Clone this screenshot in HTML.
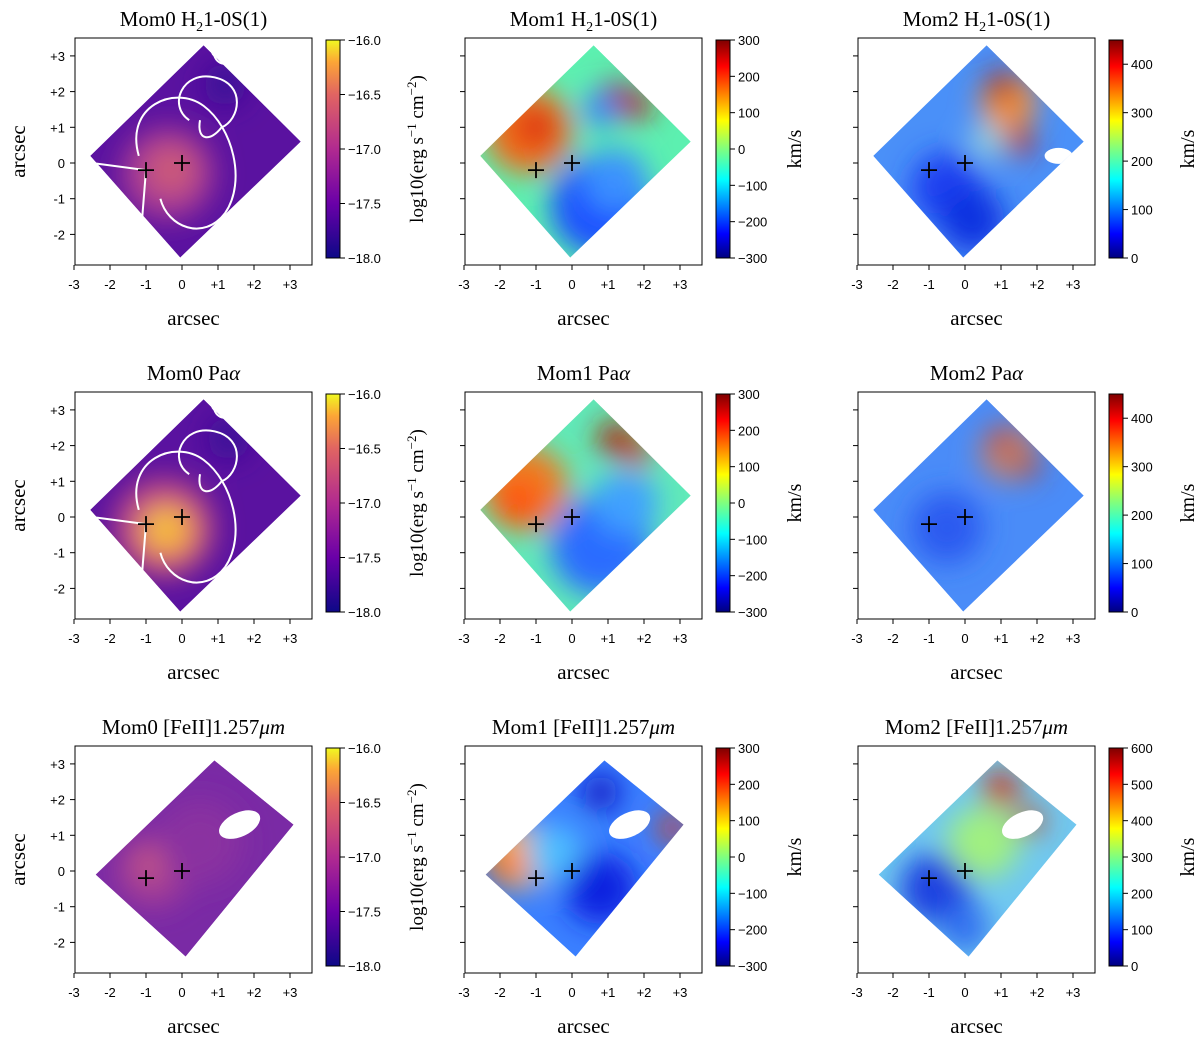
<!DOCTYPE html>
<html><head><meta charset="utf-8">
<style>
html,body{margin:0;padding:0;background:#fff;}
svg text{font-family:"Liberation Sans",sans-serif;}
.serif{font-family:"Liberation Serif",serif;}
</style></head>
<body>
<svg id="fig" width="1200" height="1050" viewBox="0 0 1200 1050" xmlns="http://www.w3.org/2000/svg">
<defs>
<linearGradient id="plasma" x1="0" y1="1" x2="0" y2="0">
<stop offset="0" stop-color="#0d0887"/><stop offset="0.25" stop-color="#6a00a8"/>
<stop offset="0.5" stop-color="#b12a90"/><stop offset="0.75" stop-color="#e16462"/>
<stop offset="0.9" stop-color="#fca636"/><stop offset="1" stop-color="#f0f921"/>
</linearGradient>
<linearGradient id="jet" x1="0" y1="1" x2="0" y2="0">
<stop offset="0" stop-color="#00007f"/><stop offset="0.11" stop-color="#0000ff"/>
<stop offset="0.36" stop-color="#00ffff"/><stop offset="0.5" stop-color="#7fff7f"/>
<stop offset="0.63" stop-color="#ffff00"/><stop offset="0.88" stop-color="#ff0000"/>
<stop offset="1" stop-color="#7f0000"/>
</linearGradient>
<filter id="blur" x="-50%" y="-50%" width="200%" height="200%"><feGaussianBlur stdDeviation="14"/></filter>
<filter id="blur2" x="-50%" y="-50%" width="200%" height="200%"><feGaussianBlur stdDeviation="4"/></filter>
</defs>
</svg>
<script>
const xTicks=[-3,-2,-1,0,1,2,3];
const yTicks=[3,2,1,0,-1,-2];
const mom0Ticks=[-16.0,-16.5,-17.0,-17.5,-18.0];
const mom0Range=[-18,-16];
const mom1Ticks=[300,200,100,0,-100,-200,-300];
const mom1Range=[-300,300];
const mom2TicksA=[400,300,200,100,0];
const mom2RangeA=[0,450];
const mom2TicksB=[600,500,400,300,200,100,0];
const mom2RangeB=[0,600];
const titles=[["Mom0 H<tspan font-size='14' dy='5'>2</tspan><tspan dy='-5'>1-0S(1)</tspan>","Mom1 H<tspan font-size='14' dy='5'>2</tspan><tspan dy='-5'>1-0S(1)</tspan>","Mom2 H<tspan font-size='14' dy='5'>2</tspan><tspan dy='-5'>1-0S(1)</tspan>"],
["Mom0 Pa<tspan font-style='italic'>α</tspan>","Mom1 Pa<tspan font-style='italic'>α</tspan>","Mom2 Pa<tspan font-style='italic'>α</tspan>"],
["Mom0 [FeII]1.257<tspan font-style='italic'>μm</tspan>","Mom1 [FeII]1.257<tspan font-style='italic'>μm</tspan>","Mom2 [FeII]1.257<tspan font-style='italic'>μm</tspan>"]];
const outline=[[-2.55,0.2],[0.6,3.3],[3.3,0.6],[-0.05,-2.65]];
const outline3=[[-2.4,-0.1],[0.9,3.1],[3.1,1.3],[0.1,-2.4]];
// blobs: [x,y,r,color]
const blobs={
 m0a:{base:"#5a12a0",b:[[-0.4,-0.3,1.3,"#a83a95"],[-0.3,-0.2,0.7,"#cc5a78"],[1.2,2.2,0.6,"#3a0c98"]]},
 m0b:{base:"#5a12a0",b:[[-0.5,-0.3,1.4,"#c04a85"],[-0.4,-0.4,0.8,"#f39a40"],[-0.5,-0.3,0.4,"#f8d040"],[1.3,2.2,0.6,"#3a0c98"]]},
 m0c:{base:"#7a2aa5",b:[[-0.8,0,1.0,"#a43e96"],[0.5,0.8,1.2,"#8a30a0"],[-0.9,0.2,0.4,"#c85a80"]]},
 m1a:{base:"#5cf0b0",b:[[-1.2,0.9,1.2,"#f26a1a"],[-1.0,1.0,0.5,"#d82010"],[0.8,-1.2,1.4,"#1a50ff"],[1.2,-0.5,0.9,"#3a90ff"],[1.2,1.8,0.5,"#a01010"],[1.8,1.6,0.4,"#c01818"],[0.8,1.5,0.5,"#3080ff"]]},
 m1b:{base:"#60eab8",b:[[-1.3,0.8,1.2,"#f07a20"],[-1.5,0.4,0.6,"#ff5010"],[0.8,-0.8,1.4,"#2a6cff"],[1.5,0.4,0.9,"#40a0ff"],[1.2,2.2,0.5,"#b02010"],[1.8,1.8,0.4,"#d04010"]]},
 m1c:{base:"#3a80ff",b:[[-1.5,0.4,0.9,"#ffc030"],[-1.8,0.2,0.5,"#ff7010"],[-0.5,0.5,0.8,"#50c0ff"],[0.8,-0.5,1.0,"#1020e0"],[0.8,2.2,0.5,"#0a10c0"],[2.8,1.2,0.4,"#e04010"]]},
 m2a:{base:"#4a90f8",b:[[-0.5,-0.7,1.0,"#1a40f0"],[0.2,-1.6,0.9,"#1030e0"],[1.2,1.7,0.8,"#f09040"],[1.0,2.2,0.4,"#b01010"],[1.5,0.6,0.4,"#c02020"],[0.6,0.6,0.5,"#90d0e0"]]},
 m2b:{base:"#4a8cf8",b:[[-0.5,-0.3,1.0,"#2a5af0"],[1.2,1.8,0.8,"#c08070"],[1.0,2.2,0.3,"#c02010"],[1.8,1.4,0.3,"#b03020"]]},
 m2c:{base:"#70c8f0",b:[[-0.8,-0.5,1.0,"#1a40e0"],[0.5,0.8,1.0,"#a0f080"],[1.0,2.3,0.5,"#d03010"],[1.8,1.4,0.4,"#c05030"],[0,-1.6,0.7,"#3070f0"]]}
};
const keys=[["m0a","m1a","m2a"],["m0b","m1b","m2b"],["m0c","m1c","m2c"]];
const colLeft=[75,465,858], rowTop=[38,392,746], W=237, H=227, sx=36, sy=35.7;
const svg=document.getElementById('fig');
const NS="http://www.w3.org/2000/svg";
function mk(tag,attrs,parent){const e=document.createElementNS(NS,tag);for(const k in attrs)e.setAttribute(k,attrs[k]);(parent||svg).appendChild(e);return e;}
let clipId=0;
for(let r=0;r<3;r++)for(let c=0;c<3;c++){
 const L=colLeft[c],T=rowTop[r];
 const cx=L+107, cy=T+125;
 const X=v=>cx+v*sx, Y=v=>cy-v*sy;
 const g=mk('g',{});
 
 
 // map
 const poly=(r==2?outline3:outline).map(p=>X(p[0])+','+Y(p[1])).join(' ');
 const cid='clip'+(clipId++);
 const cp=mk('clipPath',{id:cid},g);mk('polygon',{points:poly},cp);
 const mg=mk('g',{'clip-path':'url(#'+cid+')'},g);
 
 
 const bd=blobs[keys[r][c]];
 mk('polygon',{points:poly,fill:bd.base},mg);
 const bg=mk('g',{filter:'url(#blur)'},mg);
 bd.b.forEach(b=>mk('ellipse',{cx:X(b[0]),cy:Y(b[1]),rx:b[2]*sx,ry:b[2]*sy,fill:b[3]},bg));
 if(r==2){mk('ellipse',{cx:X(1.6),cy:Y(1.3),rx:22,ry:12,fill:'#fff',transform:'rotate(-25 '+X(1.6)+' '+Y(1.3)+')'},mg);}
 if(r==0&&c==2){mk('ellipse',{cx:X(2.6),cy:Y(0.2),rx:14,ry:8,fill:'#fff'},mg);}
 // contours for mom0 rows 1-2
 if(c==0&&r<2){
  const cg=mk('g',{fill:'none',stroke:'#fff','stroke-width':2},g);
  
  
  mk('path',{d:`M${X(-1.2)} ${Y(0.2)} C ${X(-1.6)} ${Y(1.6)} ${X(-0.2)} ${Y(2.2)} ${X(0.6)} ${Y(1.6)} C ${X(1.4)} ${Y(1.0)} ${X(1.8)} ${Y(-0.5)} ${X(1.2)} ${Y(-1.4)} C ${X(0.6)} ${Y(-2.2)} ${X(-0.4)} ${Y(-1.8)} ${X(-0.6)} ${Y(-1.0)}`},cg);
  mk('path',{d:`M${X(0.2)} ${Y(1.2)} C ${X(-0.4)} ${Y(1.6)} ${X(0.0)} ${Y(2.6)} ${X(0.9)} ${Y(2.4)} C ${X(1.8)} ${Y(2.2)} ${X(1.6)} ${Y(1.2)} ${X(1.1)} ${Y(1.0)} C ${X(0.8)} ${Y(0.6)} ${X(0.4)} ${Y(0.6)} ${X(0.5)} ${Y(1.2)}`},cg);
  mk('path',{d:`M${X(0.9)} ${Y(3.0)} C ${X(0.6)} ${Y(3.3)} ${X(1.4)} ${Y(3.4)} ${X(1.5)} ${Y(3.0)} C ${X(1.4)} ${Y(2.7)} ${X(1.0)} ${Y(2.7)} ${X(0.9)} ${Y(3.0)}`},cg);
  mk('path',{d:`M${X(-2.5)} ${Y(0)} L ${X(-1)} ${Y(-0.2)} L ${X(-1.15)} ${Y(-2.1)}`},cg);
 }
 // crosses
 [[0,0],[-1,-0.2]].forEach(p=>{
  const cr=mk('path',{d:`M${X(p[0])-8} ${Y(p[1])} h16 M${X(p[0])} ${Y(p[1])-8} v16`,stroke:'#000','stroke-width':1.8},g);
  
  
 });
 // frame
 const fr=mk('rect',{x:L,y:T,width:W,height:H,fill:'none',stroke:'#000','stroke-width':1},g);
 
 
 xTicks.forEach(v=>{
  mk('line',{x1:X(v),x2:X(v),y1:T+H,y2:T+H+5,stroke:'#000'},g);
  const t=mk('text',{x:X(v),y:T+H+24,'font-size':13,'text-anchor':'middle'},g);
  t.textContent=(v>0?'+':'')+v;
  
  
 });
 yTicks.forEach(v=>{
  mk('line',{x1:L-5,x2:L,y1:Y(v),y2:Y(v),stroke:'#000'},g);
  if(c==0){
   const t=mk('text',{x:L-10,y:Y(v)+5,'font-size':13,'text-anchor':'end'},g);
   t.textContent=(v>0?'+':'')+v;
   
   
  }
 });
 const xl=mk('text',{x:L+W/2,y:T+H+60,'font-size':21,'text-anchor':'middle',class:'serif'},g);
 xl.textContent='arcsec';
 
 
 if(c==0){
  const yl=mk('text',{x:0,y:0,'font-size':21,'text-anchor':'middle',class:'serif',transform:`translate(25 ${T+H/2}) rotate(-90)`},g);
  yl.textContent='arcsec';
  
  
 }
 const ti=mk('text',{x:L+W/2,y:T-12,'font-size':21,'text-anchor':'middle',class:'serif'},g);
 ti.innerHTML=titles[r][c];
 
 
 // colorbar
 const cbL=L+251, cbT=T+2, cbH=218, cbW=14;
 let ticks,range,grad;
 if(c==0){ticks=mom0Ticks;range=mom0Range;grad='plasma';}
 else if(c==1){ticks=mom1Ticks;range=mom1Range;grad='jet';}
 else if(r<2){ticks=mom2TicksA;range=mom2RangeA;grad='jet';}
 else {ticks=mom2TicksB;range=mom2RangeB;grad='jet';}
 const cbg=mk('g',{},g);
 
 
 mk('rect',{x:cbL,y:cbT,width:cbW,height:cbH,fill:'url(#'+grad+')',stroke:'#000','stroke-width':1},cbg);
 const CY=v=>cbT+cbH-(v-range[0])/(range[1]-range[0])*cbH;
 ticks.forEach(v=>{
  mk('line',{x1:cbL+cbW,x2:cbL+cbW+5,y1:CY(v),y2:CY(v),stroke:'#000'},cbg);
  const t=mk('text',{x:cbL+cbW+8,y:CY(v)+5,'font-size':13},cbg);
  t.textContent=(c==0?(v<0?'−':'')+Math.abs(v).toFixed(1):(v<0?'−':'')+Math.abs(v));
  
  
 });
 const lbx=c==0?L+348:L+336;
 const cl=mk('text',{x:0,y:0,'font-size':c==0?19:20,'text-anchor':'middle',class:'serif',transform:`translate(${lbx} ${cbT+cbH/2}) rotate(-90)`},cbg);
 cl.innerHTML=c==0?"log10(erg s<tspan font-size='13' dy='-7'>−1</tspan><tspan dy='7'> cm</tspan><tspan font-size='13' dy='-7'>−2</tspan><tspan dy='7'>)</tspan>":"km/s";
 
 
}
</script>
</body></html>
